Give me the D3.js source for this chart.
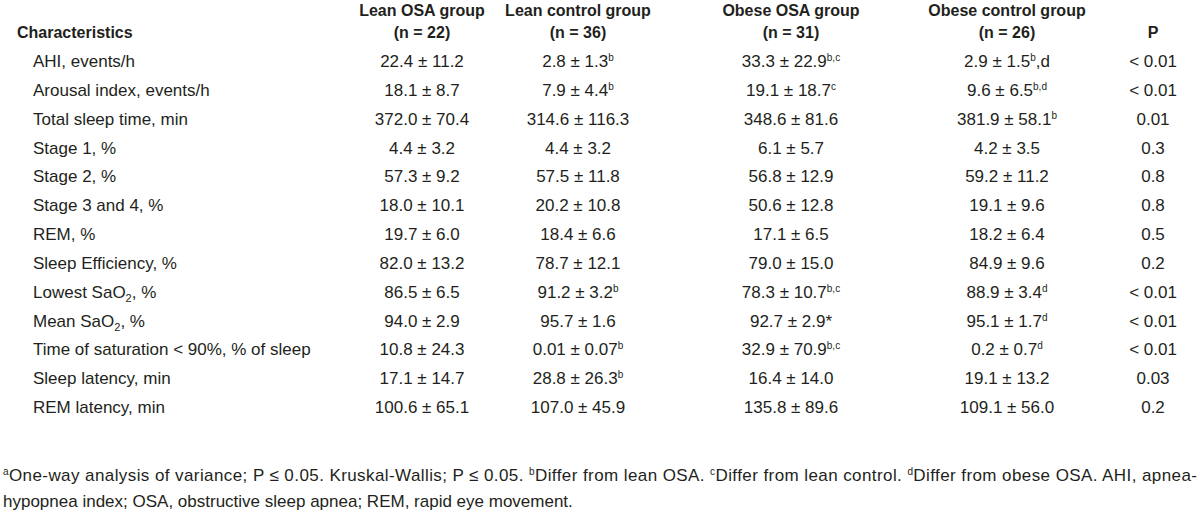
<!DOCTYPE html>
<html>
<head>
<meta charset="utf-8">
<script src="https://cdn.jsdelivr.net/npm/d3@7"></script>
<style>
    html, body { margin: 0; padding: 0; background: #fff; }
    text { font-family: "Liberation Sans", Arial, sans-serif; fill: #231f20; }
</style>
</head>
<body>
<div id="table"></div>
<script>
// table values, ^x| = superscript, _x = subscript
var groups = ["Lean OSA group", "Lean control group", "Obese OSA group", "Obese control group"];
var groupN = ["(n = 22)", "(n = 36)", "(n = 31)", "(n = 26)"];
var characteristics = ["AHI, events/h", "Arousal index, events/h", "Total sleep time, min", "Stage 1, %",
    "Stage 2, %", "Stage 3 and 4, %", "REM, %", "Sleep Efficiency, %", "Lowest SaO_2, %", "Mean SaO_2, %",
    "Time of saturation < 90%, % of sleep", "Sleep latency, min", "REM latency, min"];
var leanOSA = ["22.4 ± 11.2", "18.1 ± 8.7", "372.0 ± 70.4", "4.4 ± 3.2", "57.3 ± 9.2", "18.0 ± 10.1",
    "19.7 ± 6.0", "82.0 ± 13.2", "86.5 ± 6.5", "94.0 ± 2.9", "10.8 ± 24.3", "17.1 ± 14.7", "100.6 ± 65.1"];
var leanControl = ["2.8 ± 1.3^b", "7.9 ± 4.4^b", "314.6 ± 116.3", "4.4 ± 3.2", "57.5 ± 11.8", "20.2 ± 10.8",
    "18.4 ± 6.6", "78.7 ± 12.1", "91.2 ± 3.2^b", "95.7 ± 1.6", "0.01 ± 0.07^b", "28.8 ± 26.3^b", "107.0 ± 45.9"];
var obeseOSA = ["33.3 ± 22.9^b,c", "19.1 ± 18.7^c", "348.6 ± 81.6", "6.1 ± 5.7", "56.8 ± 12.9", "50.6 ± 12.8",
    "17.1 ± 6.5", "79.0 ± 15.0", "78.3 ± 10.7^b,c", "92.7 ± 2.9*", "32.9 ± 70.9^b,c", "16.4 ± 14.0", "135.8 ± 89.6"];
var obeseControl = ["2.9 ± 1.5^b|,d", "9.6 ± 6.5^b,d", "381.9 ± 58.1^b", "4.2 ± 3.5", "59.2 ± 11.2", "19.1 ± 9.6",
    "18.2 ± 6.4", "84.9 ± 9.6", "88.9 ± 3.4^d", "95.1 ± 1.7^d", "0.2 ± 0.7^d", "19.1 ± 13.2", "109.1 ± 56.0"];
var pValues = ["< 0.01", "< 0.01", "0.01", "0.3", "0.8", "0.8", "0.5", "0.2", "< 0.01", "< 0.01", "< 0.01", "0.03", "0.2"];
var footnotes = [
    "^a|One-way analysis of variance; P ≤ 0.05. Kruskal-Wallis; P ≤ 0.05. ^b|Differ from lean OSA. ^c|Differ from lean control. ^d|Differ from obese OSA. AHI, apnea-",
    "hypopnea index; OSA, obstructive sleep apnea; REM, rapid eye movement."
];

var drawTable = (function () {

    var width = 1200;
    var height = 514;
    var fontSize = 17;

    // write a string with ^sup| and _sub markup into a text element
    function richText(sel, str) {
        var re = /\^([^|]+)\|?|_(\d)/g;
        var last = 0, shift = 0, m;
        function plain(s) {
            if (!s) return;
            sel.append("tspan").attr("dy", -shift).text(s);
            shift = 0;
        }
        while ((m = re.exec(str)) !== null) {
            plain(str.slice(last, m.index));
            if (m[1] !== undefined) {
                sel.append("tspan").attr("dy", -6 - shift).style("font-size", "10px").text(m[1]);
                shift = -6;
            } else {
                sel.append("tspan").attr("dy", 4 - shift).style("font-size", "11px").text(m[2]);
                shift = 4;
            }
            last = re.lastIndex;
        }
        plain(str.slice(last));
    }

    function go() {
        var svg = d3.select("#table")
            .append("svg")
            .attr("width", width)
            .attr("height", height);

        var colKeys = ["leanOSA", "leanControl", "obeseOSA", "obeseControl", "p"];
        var columns = [leanOSA, leanControl, obeseOSA, obeseControl, pValues];

        var x = d3.scaleOrdinal().domain(colKeys).range([422, 578, 791, 1007, 1153]);
        var y = d3.scalePoint()
            .domain(d3.range(characteristics.length))
            .range([67, 413]);

        // header
        var head = svg.append("g").attr("font-weight", "bold").attr("font-size", 16);
        head.append("text")
            .attr("x", 17).attr("y", 38)
            .text("Characteristics");
        head.selectAll(".g1")
            .data(groups)
            .enter().append("text")
            .attr("class", "g1")
            .attr("x", function (d, i) { return x(colKeys[i]); })
            .attr("y", 16)
            .attr("text-anchor", "middle")
            .text(function (d) { return d; });
        head.selectAll(".g2")
            .data(groupN)
            .enter().append("text")
            .attr("class", "g2")
            .attr("x", function (d, i) { return x(colKeys[i]); })
            .attr("y", 38)
            .attr("text-anchor", "middle")
            .text(function (d) { return d; });
        head.append("text")
            .attr("x", x("p")).attr("y", 38)
            .attr("text-anchor", "middle")
            .text("P");

        // body
        var body = svg.append("g").attr("font-size", fontSize);
        body.selectAll(".rowLabel")
            .data(characteristics)
            .enter().append("text")
            .attr("class", "rowLabel")
            .attr("x", 33)
            .attr("y", function (d, i) { return y(i); })
            .each(function (d) { richText(d3.select(this), d); });

        columns.forEach(function (col, c) {
            body.selectAll(".cell" + c)
                .data(col)
                .enter().append("text")
                .attr("class", "cell" + c)
                .attr("x", x(colKeys[c]))
                .attr("y", function (d, i) { return y(i); })
                .attr("text-anchor", "middle")
                .each(function (d) { richText(d3.select(this), d); });
        });

        // footnotes, first line justified to the full width
        var foot = svg.append("g").attr("font-size", fontSize);
        foot.selectAll(".note")
            .data(footnotes)
            .enter().append("text")
            .attr("class", "note")
            .attr("x", 3)
            .attr("y", function (d, i) { return 481 + i * 26; })
            .each(function (d, i) {
                var t = d3.select(this);
                richText(t, d);
                if (i === 0) t.attr("textLength", 1194).attr("lengthAdjust", "spacing");
            });
    }

    document.addEventListener("DOMContentLoaded", function (event) {
        go();
    });
}());
</script>
</body>
</html>
